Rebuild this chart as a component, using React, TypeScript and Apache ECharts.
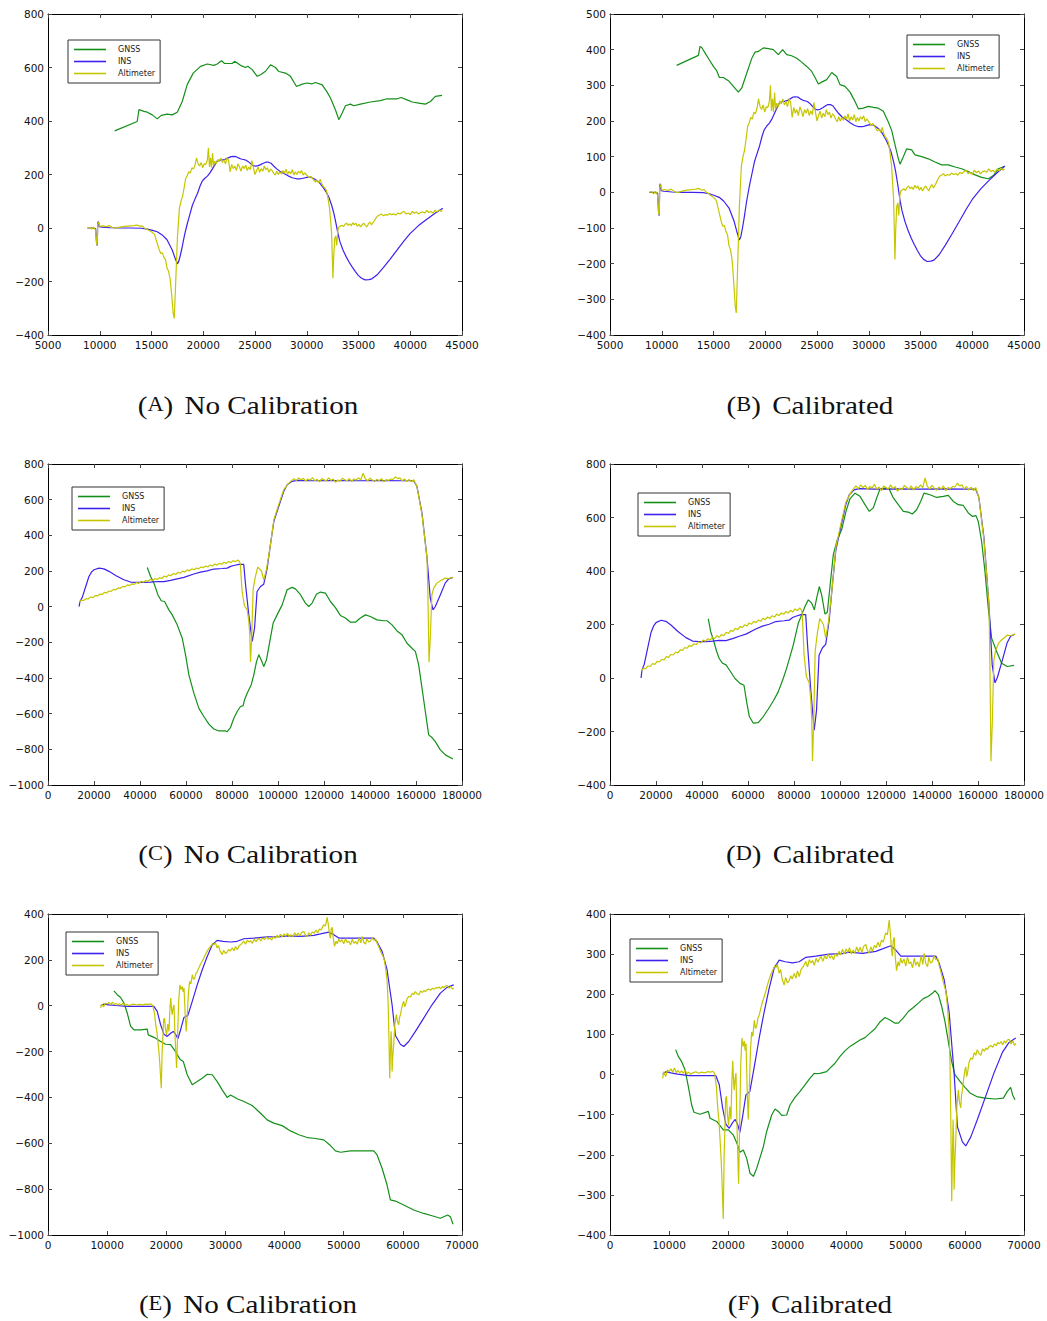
import React, { useEffect, useRef } from "react";
import * as echarts from "echarts";

type Pt = [number, number];

// ---- axis ranges: [min, max, step] ----
const xRangeAB = [5000, 45000, 5000];
const yRangeA = [-400, 800, 200];
const yRangeB = [-400, 500, 100];
const xRangeCD = [0, 180000, 20000];
const yRangeC = [-1000, 800, 200];
const yRangeD = [-400, 800, 200];
const xRangeEF = [0, 70000, 10000];
const yRangeE = [-1000, 400, 200];
const yRangeF = [-400, 400, 100];

const seriesNames = ["GNSS", "INS", "Altimeter"];
const panelLetters = ["A", "B", "C", "D", "E", "F"];
const panelTitles = ["No Calibration", "Calibrated", "No Calibration", "Calibrated", "No Calibration", "Calibrated"];

// ---- flight 1 (panels A, B) ----
const gnssA: Pt[] = [[11440,363],[13620,398],[13790,443],[14270,436],[14590,433],[15070,423],[15560,408],[15940,421],[16520,426],[17000,423],[17490,433],[17970,473],[18450,536],[19030,579],[19740,604],[20380,613],[21030,608],[21350,613],[21770,625],[22060,615],[22800,615],[23020,623],[23600,608],[24080,600],[24310,605],[24730,592],[25210,567],[25530,573],[26020,586],[26500,610],[26980,600],[27300,585],[27950,579],[28430,567],[29010,529],[29560,538],[30040,542],[30520,539],[30840,544],[31490,535],[31970,508],[32290,486],[32770,442],[33100,405],[33420,430],[33740,457],[34220,463],[34540,457],[35190,463],[36150,471],[37120,476],[37760,483],[38730,483],[39110,488],[39690,479],[40180,471],[40820,467],[41460,463],[41950,473],[42430,492],[43070,496]];

const gnssB: Pt[] = [[11440,356],[13540,384],[13700,409],[13860,406],[14180,391],[14500,376],[14990,353],[15310,341],[15570,322],[15950,322],[16440,313],[16920,297],[17400,281],[17720,292],[18210,334],[18690,375],[19010,393],[19330,395],[19820,405],[20300,403],[20780,400],[21270,386],[21680,400],[22070,386],[22550,383],[23040,376],[23520,365],[24000,353],[24490,339],[24810,322],[25130,304],[25450,309],[25940,316],[26420,336],[26900,325],[27220,302],[27710,297],[28190,281],[28670,255],[29000,234],[29480,236],[29960,241],[30450,238],[30930,236],[31410,227],[31890,197],[32220,173],[32540,133],[32860,94],[33020,79],[33340,100],[33670,122],[34150,119],[34470,105],[35110,100],[35760,94],[36400,85],[37050,77],[37690,77],[38340,71],[38980,66],[39620,58],[40270,49],[40910,42],[41560,38],[42040,47],[42520,66],[43070,72]];

const insAB: Pt[] = [[8800,0],[9300,0],[9600,-2],[9700,-60],[9760,-65],[9800,18],[9870,24],[9950,5],[10200,3],[11000,1],[12000,0],[13000,0],[14000,-1],[14600,-4],[15100,-9],[15550,-14],[16000,-25],[16500,-44],[17000,-82],[17300,-115],[17500,-134],[17650,-123],[17800,-100],[17970,-70],[18200,-25],[18450,15],[18700,50],[18950,85],[19200,108],[19450,130],[19700,158],[19900,175],[20150,186],[20400,194],[20650,206],[20900,222],[21150,238],[21350,250],[21600,254],[21850,255],[22100,257],[22400,262],[22700,267],[22900,268],[23150,267],[23400,262],[23650,258],[23900,256],[24100,254],[24350,248],[24600,240],[24850,233],[25050,231],[25300,233],[25550,237],[25800,242],[26050,246],[26300,246],[26550,242],[26800,232],[27100,221],[27400,212],[27800,204],[28200,195],[28600,188],[29000,184],[29400,184],[29750,187],[30100,190],[30450,189],[30700,184],[31000,177],[31300,166],[31650,148],[31900,133],[32150,114],[32400,86],[32600,58],[32800,22],[33000,-18],[33200,-50],[33500,-82],[33800,-107],[34100,-128],[34400,-146],[34700,-163],[35000,-178],[35300,-188],[35650,-194],[36000,-193],[36300,-190],[36800,-175],[37400,-148],[38000,-119],[38700,-84],[39400,-48],[40000,-20],[40800,9],[41600,33],[42400,55],[43150,74]];

const altAB: Pt[] = [[8800,0],[9000,2],[9200,-4],[9400,3],[9600,-8],[9700,-60],[9760,-63],[9800,14],[9900,22],[10000,6],[10300,8],[10600,5],[10900,9],[11200,3],[11500,-1],[11800,2],[12100,4],[12400,6],[12700,7],[13000,8],[13300,9],[13600,11],[13900,6],[14100,8],[14300,0],[14500,-3],[14700,-8],[14900,-12],[15100,-17],[15300,-25],[15450,-45],[15600,-63],[15750,-82],[15900,-95],[16050,-93],[16200,-110],[16350,-118],[16500,-150],[16650,-162],[16800,-190],[16950,-250],[17100,-320],[17200,-338],[17300,-240],[17400,-140],[17500,-40],[17600,20],[17700,75],[17850,100],[18000,118],[18150,150],[18300,185],[18450,195],[18600,210],[18750,205],[18900,225],[19050,220],[19200,235],[19350,262],[19500,240],[19650,232],[19800,245],[19950,225],[20100,240],[20250,238],[20400,255],[20500,300],[20600,228],[20700,262],[20800,225],[20900,280],[21000,232],[21100,250],[21250,240],[21400,256],[21550,248],[21700,262],[21850,245],[22000,255],[22150,240],[22300,262],[22450,252],[22600,210],[22750,238],[22900,222],[23050,232],[23200,215],[23350,240],[23500,228],[23650,212],[23800,232],[23950,222],[24100,235],[24250,215],[24400,228],[24550,218],[24700,252],[24850,225],[25000,200],[25150,215],[25300,228],[25450,208],[25600,222],[25750,212],[25900,232],[26050,218],[26200,225],[26350,208],[26500,220],[26650,215],[26800,205],[26950,198],[27100,212],[27250,200],[27400,210],[27550,202],[27700,215],[27850,205],[28000,220],[28150,200],[28300,212],[28450,203],[28600,218],[28750,198],[28900,210],[29050,200],[29200,212],[29350,205],[29500,215],[29650,198],[29800,206],[29950,200],[30100,193],[30250,188],[30400,193],[30550,186],[30700,178],[30850,172],[31000,178],[31150,168],[31300,182],[31450,165],[31600,155],[31750,150],[31900,140],[32050,112],[32200,75],[32300,30],[32400,-20],[32480,-120],[32530,-188],[32600,-110],[32700,-40],[32800,-30],[32900,-65],[33000,-10],[33100,4],[33250,7],[33400,10],[33550,5],[33700,14],[33850,18],[34000,10],[34150,15],[34300,8],[34450,20],[34600,12],[34750,18],[34900,6],[35050,14],[35200,4],[35350,12],[35500,18],[35650,10],[35800,4],[35950,15],[36100,22],[36250,12],[36400,20],[36550,28],[36700,38],[36850,45],[37000,48],[37200,52],[37400,46],[37600,50],[37800,48],[38000,54],[38200,50],[38400,53],[38600,48],[38800,56],[39000,52],[39200,58],[39400,62],[39600,52],[39800,56],[40000,50],[40200,62],[40400,55],[40600,60],[40800,52],[41000,58],[41200,60],[41400,56],[41600,66],[41800,58],[42000,62],[42200,56],[42400,66],[42600,60],[42800,68],[43000,62],[43100,66]];

// ---- flight 2 (panels C, D) ----
const gnssC: Pt[] = [[43150,220],[44600,169],[46050,132],[47790,67],[49230,33],[50680,29],[52560,-18],[54010,-46],[56180,-102],[58360,-177],[59800,-270],[61250,-382],[63420,-485],[65600,-570],[67770,-616],[69940,-659],[72110,-686],[74280,-697],[77180,-697],[77900,-701],[79350,-678],[80800,-626],[82250,-588],[83700,-560],[84850,-555],[85430,-523],[86590,-485],[88330,-439],[89490,-382],[90650,-308],[91660,-270],[92670,-298],[93830,-336],[94990,-298],[96440,-195],[97890,-92],[99620,-46],[101800,10],[103970,95],[106140,108],[107590,100],[109760,67],[111930,20],[113380,1],[114830,20],[116710,70],[118450,82],[120620,76],[122790,29],[124960,-5],[127140,-49],[129310,-64],[131480,-87],[133650,-87],[135820,-64],[138000,-46],[140170,-55],[143060,-74],[145960,-79],[147410,-79],[149580,-102],[151750,-136],[153920,-158],[156100,-205],[158270,-233],[159720,-251],[161160,-326],[162610,-457],[164060,-588],[165510,-719],[166950,-734],[168400,-757],[170570,-803],[172750,-831],[176080,-854]];

const gnssD: Pt[] = [[42750,221],[43770,174],[44930,143],[46380,99],[47540,72],[48990,55],[50430,49],[52170,27],[54350,-2],[56520,-20],[58260,-27],[59420,-89],[60580,-144],[62320,-169],[64490,-167],[66670,-144],[68840,-116],[71010,-86],[73190,-51],[75360,-1],[76810,37],[78260,80],[79710,124],[81880,205],[83330,236],[84780,267],[86230,292],[87680,280],[88840,255],[89860,299],[91010,342],[92030,311],[93480,239],[94490,246],[95650,342],[97100,461],[98840,517],[100720,554],[102610,623],[104350,670],[106520,691],[108700,679],[110870,648],[112750,623],[114490,636],[115940,673],[117390,706],[119570,710],[121450,706],[123190,673],[125360,648],[127540,623],[129710,620],[131450,613],[133330,629],[135070,660],[136520,691],[139130,685],[142030,675],[144930,679],[147100,683],[149280,660],[151450,648],[153620,645],[155800,617],[157680,604],[159130,607],[160140,585],[161590,511],[163040,398],[164490,261],[165940,149],[168120,99],[170290,55],[172750,43],[175650,47]];

const insCD: Pt[] = [[13500,0],[13900,29],[14900,52],[16400,113],[17800,169],[19000,195],[20000,207],[22200,216],[24300,212],[26500,198],[29400,175],[33000,151],[35900,138],[38800,136],[41700,136],[44600,138],[47500,141],[50400,140],[53300,147],[56200,156],[59100,164],[63400,183],[66300,194],[69200,201],[72100,211],[75700,214],[77900,216],[79400,226],[80800,231],[83000,237],[85100,237],[85900,123],[87300,-46],[88800,-195],[89800,-121],[90900,85],[92400,113],[93800,126],[95300,216],[96700,347],[98200,478],[100300,562],[102500,647],[104000,684],[106100,703],[108300,708],[115000,706],[125000,707],[135000,706],[145000,707],[155000,706],[159000,706],[160400,675],[162600,525],[164800,272],[166200,48],[167400,-18],[168400,1],[170600,67],[172700,132],[174200,156],[176100,164]];

const altCD: Pt[] = [[13500,26],[14500,36],[15500,35],[16500,45],[17500,43],[18500,54],[19500,51],[20500,62],[21500,60],[22500,70],[23500,68],[24500,80],[25500,77],[26500,88],[27500,86],[28500,97],[29500,94],[30500,105],[31500,103],[32500,114],[33500,111],[34500,122],[35500,118],[36500,128],[37500,125],[38500,135],[39500,131],[40500,142],[41500,137],[42500,147],[43500,142],[44500,152],[45500,147],[46500,158],[47500,152],[48500,163],[49500,158],[50500,171],[51500,166],[52500,178],[53500,174],[54500,186],[55500,180],[56500,193],[57500,188],[58500,199],[59500,194],[60500,206],[61500,201],[62500,212],[63500,207],[64500,217],[65500,212],[66500,223],[67500,218],[68500,228],[69500,222],[70500,233],[71500,228],[72500,239],[73500,233],[74500,243],[75500,238],[76500,249],[77500,243],[78500,253],[79500,247],[80500,258],[81500,252],[82500,262],[83200,255],[83600,240],[84400,85],[85400,5],[86600,-18],[87300,-80],[87750,-160],[88050,-310],[88600,-160],[89200,100],[90200,170],[91200,222],[92000,212],[92800,200],[93800,150],[94200,170],[95000,210],[96700,345],[98200,488],[100300,572],[102500,656],[104700,693],[106900,718],[108000,708],[109000,722],[110000,712],[111000,720],[112000,704],[113000,716],[114000,710],[115000,724],[116000,706],[117000,714],[118000,700],[119000,718],[120000,712],[121000,706],[122000,722],[123000,708],[124000,716],[125000,698],[126000,710],[127000,704],[128000,720],[129000,712],[130000,706],[131000,718],[132000,702],[133000,716],[134000,710],[135000,722],[136000,712],[137000,748],[138000,716],[139000,706],[140000,720],[141000,710],[142000,702],[143000,714],[144000,706],[145000,718],[146000,700],[147000,712],[148000,708],[149000,716],[150000,714],[151000,728],[152000,718],[153000,722],[154000,706],[155000,716],[156000,702],[157000,714],[158000,700],[159000,712],[160400,675],[162600,516],[164800,272],[165200,48],[165650,-311],[166200,-177],[166900,67],[167700,104],[169100,132],[170600,145],[172700,160],[174200,158],[176100,164]];

// ---- flight 3 (panels E, F) ----
const gnssE: Pt[] = [[11150,65],[11710,48],[12280,36],[12840,12],[13400,-32],[13970,-90],[14530,-105],[15660,-105],[16780,-102],[16950,-127],[17910,-138],[19040,-156],[19880,-168],[20730,-170],[21570,-200],[22300,-233],[22870,-243],[23540,-301],[24390,-345],[25230,-331],[26080,-316],[26920,-299],[27770,-301],[28610,-331],[29450,-367],[30300,-400],[30860,-389],[31990,-406],[33120,-418],[34520,-435],[35930,-469],[37060,-498],[38180,-512],[39590,-523],[41000,-546],[42410,-563],[43820,-575],[44940,-578],[46630,-585],[47760,-610],[48600,-633],[49450,-639],[51140,-633],[52830,-633],[54520,-633],[55080,-633],[55640,-651],[56490,-709],[57330,-782],[57890,-847],[58740,-852],[60150,-869],[61840,-891],[63530,-906],[64930,-916],[66340,-927],[67580,-913],[68030,-920],[68480,-953]];

const gnssF: Pt[] = [[11100,62],[11550,45],[12120,32],[12680,12],[13250,-30],[13810,-76],[14200,-94],[15220,-99],[16630,-92],[16910,-109],[18040,-117],[19160,-138],[20010,-138],[20850,-151],[21530,-174],[21980,-194],[22540,-188],[23110,-209],[23670,-246],[24240,-254],[24800,-234],[25360,-207],[25930,-180],[26490,-142],[27340,-101],[27900,-86],[28460,-92],[29030,-102],[29870,-101],[30430,-76],[31280,-57],[32130,-42],[32970,-26],[33820,-9],[34490,2],[35510,3],[36630,7],[37200,16],[38040,28],[38890,45],[39730,59],[40580,70],[41430,78],[42270,86],[43120,92],[43960,103],[44810,114],[45650,131],[46500,142],[47340,136],[48190,128],[48750,128],[49600,141],[50440,157],[51290,167],[52130,178],[52980,189],[53830,195],[54560,203],[54950,209],[55520,199],[56080,170],[56640,132],[57210,82],[57770,32],[58330,-1],[59180,-17],[60020,-32],[60870,-46],[62000,-55],[63410,-59],[65100,-61],[66510,-59],[67180,-42],[67750,-32],[68080,-51],[68480,-63]];

const insEF: Pt[] = [[8900,1],[9460,7],[10300,4],[11430,1],[13400,-3],[15660,-3],[17900,-3],[18470,-25],[19040,-83],[19600,-124],[20160,-134],[20730,-120],[21180,-112],[21570,-124],[21960,-144],[22420,-105],[22980,-51],[23650,-42],[24390,19],[25230,91],[26080,157],[26920,215],[27770,266],[28610,285],[29620,281],[30860,278],[31990,281],[33120,292],[34800,295],[37060,300],[39310,301],[40440,305],[42690,302],[44940,307],[46070,313],[47480,321],[48320,310],[49170,295],[50570,295],[52830,295],[55080,295],[55640,278],[56490,237],[57330,157],[58180,4],[58740,-130],[59580,-168],[60150,-178],[60990,-156],[62120,-112],[63530,-54],[64930,4],[66340,55],[67470,80],[68600,91]];

const altEF: Pt[] = [[8900,-10],[9100,7],[9400,-5],[9700,11],[10000,8],[10300,14],[10600,6],[10900,16],[11200,5],[11500,10],[11800,4],[12100,9],[12400,3],[12700,11],[13000,2],[13300,6],[13600,1],[14000,4],[14500,7],[15000,3],[15500,6],[16000,4],[16500,7],[17000,6],[17400,8],[17700,2],[18000,-32],[18200,-80],[18400,-112],[18600,-160],[18750,-200],[18900,-250],[19150,-360],[19300,-200],[19400,-150],[19550,-60],[19700,-54],[19850,-100],[20050,-127],[20250,-80],[20450,-112],[20600,-20],[20750,34],[20900,-20],[21000,-39],[21150,-10],[21300,4],[21450,-112],[21600,-200],[21750,-272],[21850,-180],[21950,-98],[22100,20],[22300,91],[22500,70],[22700,84],[22850,60],[23000,77],[23200,-40],[23370,-112],[23550,-39],[23750,60],[23950,106],[24150,95],[24400,135],[24600,115],[24800,120],[25000,140],[25250,149],[25500,165],[25800,182],[26100,195],[26350,208],[26600,222],[26900,237],[27200,250],[27500,259],[27800,270],[28050,266],[28300,275],[28600,252],[28850,262],[29100,238],[29450,223],[29700,242],[30000,228],[30300,234],[30550,246],[30800,238],[31150,252],[31450,240],[31700,258],[32000,244],[32300,262],[32550,266],[32800,272],[33100,282],[33400,268],[33700,286],[34000,278],[34250,284],[34550,272],[34850,290],[35150,280],[35400,288],[35700,294],[36000,282],[36300,296],[36600,288],[36900,300],[37200,290],[37500,296],[37800,286],[38100,302],[38400,294],[38750,307],[39000,298],[39300,312],[39600,300],[39900,313],[40200,304],[40500,316],[40800,300],[41100,310],[41400,302],[41700,318],[42000,306],[42300,317],[42600,304],[42900,320],[43250,324],[43500,310],[43800,302],[44100,318],[44400,307],[44700,322],[45000,316],[45300,330],[45600,318],[45900,335],[46200,330],[46600,353],[46900,348],[47050,365],[47200,385],[47400,353],[47600,310],[47750,295],[47900,335],[48050,342],[48250,290],[48450,259],[48700,281],[48900,270],[49150,290],[49400,278],[49700,288],[50000,270],[50300,292],[50600,276],[50850,281],[51150,266],[51450,290],[51700,272],[52000,281],[52300,268],[52600,296],[52900,274],[53100,302],[53400,276],[53700,269],[53900,292],[54200,278],[54500,281],[54800,296],[55100,286],[55400,290],[55650,272],[55900,259],[56200,240],[56500,222],[56800,208],[57050,170],[57330,113],[57500,20],[57610,-98],[57780,-316],[57900,-200],[58010,-112],[58100,-160],[58180,-287],[58300,-220],[58450,-170],[58650,-80],[58900,-39],[59100,-70],[59300,-83],[59450,-50],[59600,-39],[59800,-10],[60000,10],[60150,19],[60300,-5],[60450,4],[60700,30],[61000,41],[61300,38],[61600,55],[61850,48],[62100,62],[62400,52],[62700,48],[63000,64],[63300,58],[63550,66],[63800,62],[64100,70],[64400,72],[64700,68],[65000,76],[65300,72],[65600,80],[65800,76],[66100,82],[66400,74],[66700,84],[66900,78],[67200,86],[67500,88],[67800,76],[68100,84],[68400,72],[68600,78]];

const panelData = [
  { gnss: gnssA, ins: insAB, alt: altAB, xr: xRangeAB, yr: yRangeA },
  { gnss: gnssB, ins: insAB, alt: altAB, xr: xRangeAB, yr: yRangeB },
  { gnss: gnssC, ins: insCD, alt: altCD, xr: xRangeCD, yr: yRangeC },
  { gnss: gnssD, ins: insCD, alt: altCD, xr: xRangeCD, yr: yRangeD },
  { gnss: gnssE, ins: insEF, alt: altEF, xr: xRangeEF, yr: yRangeE },
  { gnss: gnssF, ins: insEF, alt: altEF, xr: xRangeEF, yr: yRangeF },
];

// ---- layout & style ----
const colLeft = [48, 610];
const rowTop = [14, 464, 914];
const plotW = 414;
const plotH = 321;
const legendPos = [[68, 40], [907, 35], [72, 487], [638, 493], [66, 932], [630, 939]];
const captionX = [248, 810];
const captionY = [405, 854, 1304];
const lineColors = ["#14901a", "#3d22ee", "#c6c600"];
const tickFont = "DejaVu Sans";

const fmt = (v: number) => String(v).replace("-", "\u2212");

function buildOption() {
  const grid: any[] = [];
  const xAxis: any[] = [];
  const yAxis: any[] = [];
  const series: any[] = [];
  const legend: any[] = [];
  const graphic: any[] = [];

  panelData.forEach((p, i) => {
    const col = i % 2;
    const row = Math.floor(i / 2);
    grid.push({ left: colLeft[col], top: rowTop[row], width: plotW, height: plotH, containLabel: false });

    const axisLine = { show: true, onZero: false, lineStyle: { color: "#000", width: 1 } };
    const axisTick = { show: true, inside: true, length: 4, lineStyle: { color: "#444", width: 1 } };
    const label = { fontSize: 10.5, color: "#111", fontFamily: tickFont, formatter: fmt, showMinLabel: true, showMaxLabel: true };

    ["bottom", "top"].forEach((pos, k) => {
      xAxis.push({
        type: "value", gridIndex: i, position: pos, min: p.xr[0], max: p.xr[1], interval: p.xr[2],
        axisLine, axisTick, splitLine: { show: false },
        axisLabel: k === 0 ? { ...label, margin: 4 } : { show: false },
      });
    });
    ["left", "right"].forEach((pos, k) => {
      yAxis.push({
        type: "value", gridIndex: i, position: pos, min: p.yr[0], max: p.yr[1], interval: p.yr[2],
        axisLine, axisTick, splitLine: { show: false },
        axisLabel: k === 0 ? { ...label, margin: 4 } : { show: false },
      });
    });

    [p.gnss, p.ins, p.alt].forEach((d, s) => {
      series.push({
        type: "line", name: seriesNames[s], xAxisIndex: i * 2, yAxisIndex: i * 2,
        data: d, symbol: "none", showSymbol: false, smooth: false,
        lineStyle: { color: lineColors[s], width: 1.2 }, itemStyle: { color: lineColors[s] },
        z: 2 + s, silent: true,
      });
    });

    legend.push({
      left: legendPos[i][0], top: legendPos[i][1], orient: "vertical",
      data: seriesNames.map((n) => ({ name: n, icon: "rect" })),
      itemWidth: 32, itemHeight: 1.6, itemGap: 3,
      padding: [5, 5, 5, 6], borderColor: "#333", borderWidth: 1, borderRadius: 0,
      backgroundColor: "#fff", selectedMode: false,
      textStyle: { fontSize: 8, fontFamily: tickFont, color: "#222", padding: [0, 0, 0, 7], lineHeight: 9 },
    });

    graphic.push({
      type: "text", x: captionX[col], y: captionY[row], scaleX: 1.12,
      style: {
        text: `{p|(}{s|${panelLetters[i]}}{p|)}{g| }{p|${panelTitles[i]}}`,
        rich: {
          p: { fontSize: 26, fontFamily: "Liberation Serif", fill: "#111" },
          s: { fontSize: 20, fontFamily: "Liberation Serif", fill: "#111", padding: [0, 0, 1, 0] },
          g: { fontSize: 26, fontFamily: "Liberation Serif", width: 10 },
        },
        align: "center", verticalAlign: "middle", fill: "#111",
        fontSize: 26, fontFamily: "Liberation Serif",
      },
    });
  });

  return { animation: false, backgroundColor: "#fff", grid, xAxis, yAxis, series, legend, graphic };
}

export default function App() {
  const ref = useRef<HTMLDivElement>(null);
  useEffect(() => {
    if (!ref.current) return;
    const chart = echarts.init(ref.current, undefined, { renderer: "svg" });
    chart.setOption(buildOption() as any);
    return () => chart.dispose();
  }, []);
  return (
    <div
      ref={ref}
      style={{ position: "absolute", left: 0, top: 0, width: 1047, height: 1321, background: "#fff" }}
    />
  );
}
